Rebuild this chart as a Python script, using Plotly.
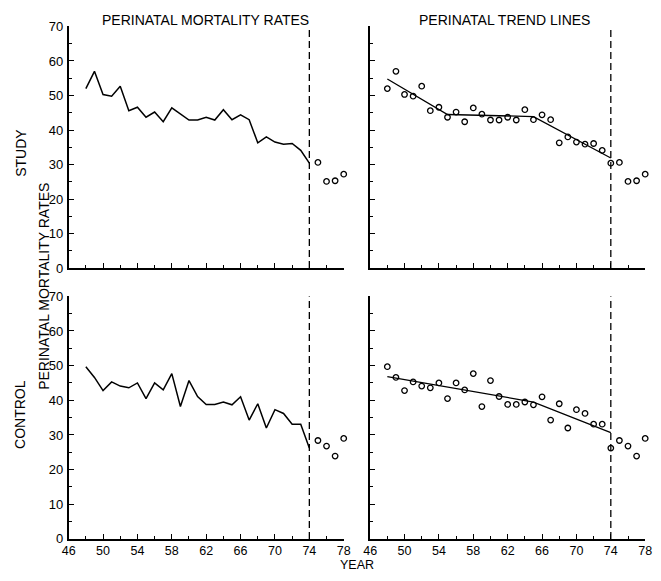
import plotly.graph_objects as go

# ---- data ----
years_obs = list(range(48, 75))          # 1948-1974 (connected / observed)
years_after = [75, 76, 77, 78]           # 1975-1978 (open circles)

study_obs = [52.0, 57.0, 50.3, 49.8, 52.7, 45.6, 46.6, 43.7, 45.2, 42.4,
             46.4, 44.6, 42.9, 42.9, 43.7, 42.9, 45.9, 43.0, 44.4, 43.0,
             36.3, 38.0, 36.5, 35.9, 36.1, 34.1, 30.4]
study_after = [30.6, 25.1, 25.3, 27.2]

control_obs = [49.7, 46.6, 42.8, 45.3, 44.1, 43.6, 45.0, 40.5, 45.0, 43.0,
               47.7, 38.2, 45.7, 41.1, 38.8, 38.8, 39.5, 38.7, 41.0, 34.3,
               39.0, 32.0, 37.3, 36.2, 33.1, 33.1, 26.2]
control_after = [28.4, 26.8, 23.9, 29.0]

study_trend_x = [48, 55, 65, 74]
study_trend_y = [54.8, 44.5, 43.9, 31.9]
control_trend_x = [48, 65, 74]
control_trend_y = [46.8, 39.5, 30.7]

CUTOFF_YEAR = 74
Y_RANGE = [0, 70]
X_RANGE = [46, 78]

W, H = 661, 581
FONT = "Liberation Sans"

def px_x(p):
    return p / W

def px_y(p):
    return 1 - p / H

fig = go.Figure()

panels = [
    ("x", "y", (63, 344), (20, 268)),
    ("x2", "y2", (371, 652), (20, 268)),
    ("x3", "y3", (63, 344), (297, 546)),
    ("x4", "y4", (371, 652), (297, 546)),
]

line_style = dict(color="black", width=1.5)
marker_style = dict(symbol="circle-open", size=5.5, color="black", line=dict(width=1.3))

def add_panel(xa, ya, obs, after, trend=None):
    if trend is None:
        fig.add_trace(go.Scatter(x=years_obs, y=obs, mode="lines", line=line_style,
                                 xaxis=xa, yaxis=ya, showlegend=False, cliponaxis=False))
    else:
        fig.add_trace(go.Scatter(x=years_obs, y=obs, mode="markers", marker=marker_style,
                                 xaxis=xa, yaxis=ya, showlegend=False, cliponaxis=False))
        fig.add_trace(go.Scatter(x=trend[0], y=trend[1], mode="lines", line=dict(color="black", width=1.3),
                                 xaxis=xa, yaxis=ya, showlegend=False, cliponaxis=False))
    fig.add_trace(go.Scatter(x=years_after, y=after, mode="markers", marker=marker_style,
                             xaxis=xa, yaxis=ya, showlegend=False, cliponaxis=False))
    fig.add_trace(go.Scatter(x=[CUTOFF_YEAR, CUTOFF_YEAR], y=Y_RANGE, mode="lines",
                             line=dict(color="black", width=1.3, dash="7px,4px"),
                             xaxis=xa, yaxis=ya, showlegend=False, cliponaxis=False))

add_panel("x", "y", study_obs, study_after)
add_panel("x2", "y2", study_obs, study_after, (study_trend_x, study_trend_y))
add_panel("x3", "y3", control_obs, control_after)
add_panel("x4", "y4", control_obs, control_after, (control_trend_x, control_trend_y))

layout = dict(
    width=W, height=H, margin=dict(l=0, r=0, t=0, b=0),
    paper_bgcolor="white", plot_bgcolor="white",
    font=dict(family=FONT, size=13, color="black"),
    hovermode=False,
)

for i, (xa, ya, xd, yd) in enumerate(panels):
    xkey = "xaxis" if xa == "x" else "xaxis" + xa[1:]
    ykey = "yaxis" if ya == "y" else "yaxis" + ya[1:]
    bottom = i >= 2
    left = i % 2 == 0
    layout[xkey] = dict(
        domain=[px_x(xd[0]), px_x(xd[1])], range=X_RANGE, anchor=ya,
        showgrid=False, zeroline=False, showline=True, linecolor="black", linewidth=1.8,
        ticks="inside", ticklen=5, tickwidth=1.4, tickcolor="black",
        tick0=46, dtick=4, showticklabels=bottom, ticklabelstandoff=-1,
        tickfont=dict(family=FONT, size=12.5),
        minor=dict(ticks="inside", dtick=2, tick0=46, ticklen=3, tickwidth=1.4, tickcolor="black", showgrid=False),
    )
    layout[ykey] = dict(
        domain=[px_y(yd[1]), px_y(yd[0])], range=Y_RANGE, anchor=xa,
        showgrid=False, zeroline=False, showline=True, linecolor="black", linewidth=1.8,
        ticks="inside", ticklen=5, tickwidth=1.4, tickcolor="black",
        tick0=0, dtick=10, showticklabels=left, ticklabelstandoff=1,
        tickfont=dict(family=FONT, size=13),
        minor=dict(ticks="inside", dtick=5, tick0=0, ticklen=3, tickwidth=1.4, tickcolor="black", showgrid=False),
    )

fig.update_layout(**layout)

ann_font = dict(family=FONT, size=14, color="black")
annotations = [
    dict(text="PERINATAL MORTALITY RATES", x=px_x(203), y=px_y(13), textangle=0),
    dict(text="PERINATAL TREND LINES", x=px_x(508), y=px_y(13), textangle=0),
    dict(text="STUDY", x=px_x(14), y=px_y(150), textangle=-90),
    dict(text="CONTROL", x=px_x(14), y=px_y(418), textangle=-90),
    dict(text="PERINATAL MORTALITY RATES", x=px_x(37), y=px_y(287), textangle=-90),
]
for a in annotations:
    fig.add_annotation(xref="paper", yref="paper", showarrow=False,
                       xanchor="center", yanchor="middle", font=ann_font, **a)
fig.add_annotation(xref="paper", yref="paper", showarrow=False, text="YEAR",
                   x=px_x(358), y=px_y(581), xanchor="center", yanchor="bottom",
                   borderpad=0, font=dict(family=FONT, size=12.5, color="black"))

# remove the default page margin so the figure fills the window exactly
page_css = ("document.documentElement.style.margin='0';"
            "document.documentElement.style.overflow='hidden';"
            "document.body.style.margin='0';"
            "document.body.style.overflow='hidden';")
fig.write_html("out.html", post_script=page_css, config={"displayModeBar": False})
